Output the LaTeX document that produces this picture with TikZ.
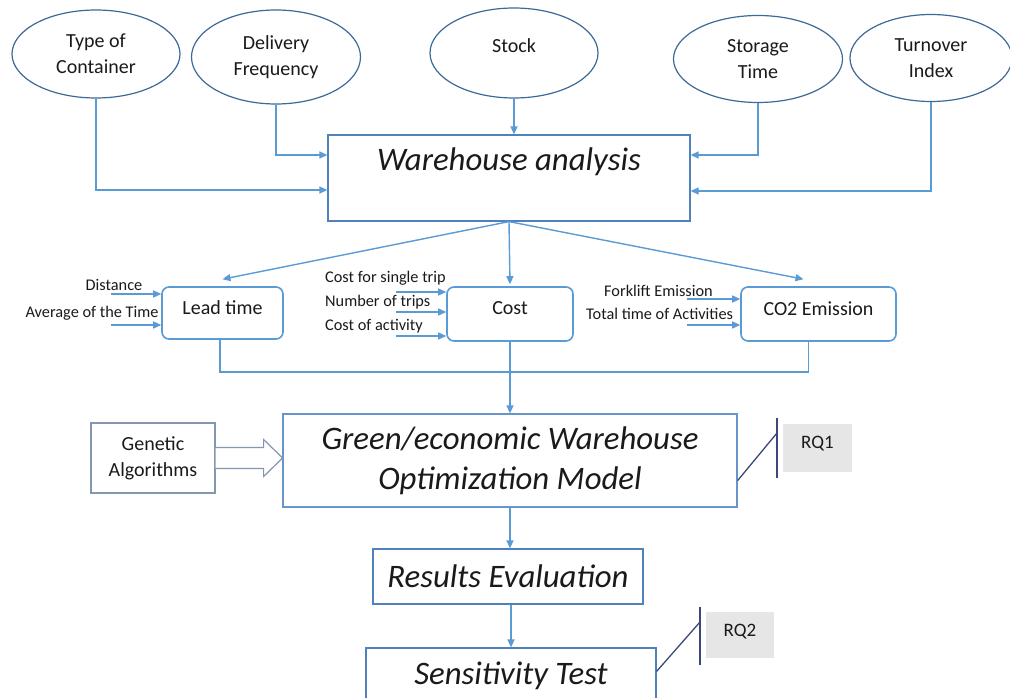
\documentclass[tikz,border=0pt]{standalone}
\usepackage{fontspec}
\setmainfont{Carlito}
\usetikzlibrary{arrows.meta,calc,shapes.geometric}
\definecolor{ellc}{HTML}{3C6A98}
\definecolor{conc}{HTML}{5B9BD5}
\definecolor{boxc}{HTML}{4F81BD}
\definecolor{rndc}{HTML}{5B9BD5}
\definecolor{genc}{HTML}{8497B0}
\definecolor{rqc}{HTML}{3A4A78}
\definecolor{rqfill}{HTML}{E6E6E6}
\definecolor{txt}{HTML}{1A1A1A}
\begin{document}
\begin{tikzpicture}[x=1pt,y=-1pt,
  every node/.style={text=txt},
  efont/.style={font=\fontsize{20}{26}\selectfont},
  sfont/.style={font=\fontsize{16.3}{18}\selectfont},
  bigit/.style={font=\fontsize{32.8}{40}\selectfont\itshape},
  rqfont/.style={font=\fontsize{19}{20}\selectfont},
  ell/.style={ellipse, draw=ellc, line width=1.2pt, inner sep=0pt, align=center, efont},
  wbox/.style={rectangle, draw=boxc, line width=1.2pt, inner sep=0pt, align=center},
  rbox/.style={rectangle, rounded corners=7pt, draw=rndc, line width=1.6pt, inner sep=0pt, align=center, efont},
  gbox/.style={rectangle, draw=genc, line width=1.2pt, inner sep=0pt, align=center, efont},
  rqbox/.style={rectangle, fill=rqfill, inner sep=0pt, rqfont},
  conn/.style={draw=conc, line width=1.4pt, -{Triangle[length=8pt,width=7pt]}},
  plain/.style={draw=conc, line width=1.4pt},
  rqline/.style={draw=rqc, line width=1.3pt},
  hollow/.style={draw=genc, line width=1.2pt, fill=white, line join=miter}
]
\useasboundingbox[fill=white] (0,0) rectangle (1010,698);

% top ellipses
\node[ell, minimum width=168pt, minimum height=88pt] (toc) at (96,54) {Type of\\Container};
\node[ell, minimum width=169pt, minimum height=94pt] (del) at (276,57) {Delivery\\Frequency};
\node[ell, minimum width=168pt, minimum height=90pt, label={[efont, yshift=7pt]center:Stock}] (stock) at (514,53) {};
\node[ell, minimum width=169pt, minimum height=87pt] (stor) at (758,59) {Storage\\Time};
\node[ell, minimum width=162pt, minimum height=87pt] (turn) at (931,58) {Turnover\\Index};

% warehouse analysis
\node[wbox, minimum width=362pt, minimum height=86pt, label={[bigit, yshift=16pt]center:Warehouse analysis}] (wa) at (509,178) {};

\draw[conn] (toc.south) |- ($(wa.west)+(0,12)$);
\draw[conn] (del.south) |- ($(wa.west)+(0,-23)$);
\draw[conn] (stock.south) -- (stock.south |- wa.north);
\draw[conn] (stor.south) |- ($(wa.east)+(0,-23)$);
\draw[conn] (turn.south) |- ($(wa.east)+(0,13)$);

% middle boxes
\node[rbox, minimum width=121pt, minimum height=52pt, label={[efont, yshift=5pt]center:Lead time}] (lt) at (222.5,313) {};
\node[rbox, minimum width=126pt, minimum height=54pt, label={[efont, yshift=6pt]center:Cost}] (cost) at (510,314) {};
\node[rbox, minimum width=155pt, minimum height=54pt, label={[efont, yshift=5pt]center:CO2 Emission}] (co2) at (818.5,314) {};

\draw[conn] (wa.south) -- ($(lt.north)+(0,-7)$);
\draw[conn] (wa.south) -- ($(cost.north)+(0,-2)$);
\draw[conn] (wa.south) -- ($(co2.north)+(-15,-7)$);

% small inputs
\node[sfont] (dist) at (114,285) {Distance};
\node[sfont] (avg) at (92,313) {Average of the Time};
\draw[conn] ($(lt.west)+(-50,-19)$) -- ($(lt.west)+(0,-19)$);
\draw[conn] ($(lt.west)+(-50,12)$) -- ($(lt.west)+(0,12)$);

\node[sfont, anchor=west, inner sep=0pt] (cst) at (325,278) {Cost for single trip};
\node[sfont, anchor=west, inner sep=0pt] (ntr) at (325,302) {Number of trips};
\node[sfont, anchor=west, inner sep=0pt] (cac) at (325,326) {Cost of activity};
\draw[conn] ($(cost.west)+(-50,-22)$) -- ($(cost.west)+(0,-22)$);
\draw[conn] ($(cost.west)+(-50,-2)$) -- ($(cost.west)+(0,-2)$);
\draw[conn] ($(cost.west)+(-50,22)$) -- ($(cost.west)+(0,22)$);

\node[sfont, anchor=west, inner sep=0pt] (fke) at (604,291) {Forklift Emission};
\node[sfont, anchor=west, inner sep=0pt] (tta) at (586,314) {Total time of Activities};
\draw[conn] ($(co2.west)+(-53,-15)$) -- ($(co2.west)+(0,-15)$);
\draw[conn] ($(co2.west)+(-53,11)$) -- ($(co2.west)+(0,11)$);

% green model
\node[wbox, draw=boxc!85, minimum width=454pt, minimum height=93pt, bigit] (green) at (510,460.5) {Green/economic Warehouse\\Optimization Model};

\draw[plain] ($(lt.south)+(-2.5,0)$) -- ++(0,32) -| ($(co2.south)+(-10,0)$);
\draw[conn] (cost.south) -- (green.north);

% genetic algorithms
\node[gbox, minimum width=124pt, minimum height=70pt] (gen) at (153,458) {Genetic\\Algorithms};
\draw[hollow] ($(gen.east)+(0,-10.5)$) -- ++(48,0) -- ++(0,-8) -- ($(gen.east)+(67,0)$) -- ($(gen.east)+(48,18.5)$) -- ++(0,-8) -- ($(gen.east)+(0,10.5)$);

% RQ1
\node[rqbox, minimum width=69pt, minimum height=48pt, label={[rqfont, yshift=4pt]center:RQ1}] (rq1) at (817.5,448) {};
\coordinate (rq1t) at (777,418);
\coordinate (rq1b) at (777,478);
\coordinate (rq1m) at (777,433);
\draw[rqline] (rq1t) -- (rq1b);
\draw[rqline] ($(green.south east)+(0,-27)$) -- (rq1m);

% results and sensitivity
\node[wbox, minimum width=270pt, minimum height=55pt, bigit] (res) at (508,576.5) {Results Evaluation};
\node[wbox, minimum width=290pt, minimum height=56pt, bigit] (sens) at (511,676) {Sensitivity Test};
\draw[conn] (green.south) -- (green.south |- res.north);
\draw[conn] ($(res.south)+(3,0)$) -- ($(res.south |- sens.north)+(3,0)$);

% RQ2
\node[rqbox, minimum width=68pt, minimum height=46pt, label={[rqfont, yshift=3pt]center:RQ2}] (rq2) at (740,635) {};
\coordinate (rq2t) at (700,607);
\coordinate (rq2b) at (700,665);
\coordinate (rq2m) at (700,622);
\draw[rqline] (rq2t) -- (rq2b);
\draw[rqline] ($(sens.north east)+(0,24)$) -- (rq2m);
\end{tikzpicture}
\end{document}
